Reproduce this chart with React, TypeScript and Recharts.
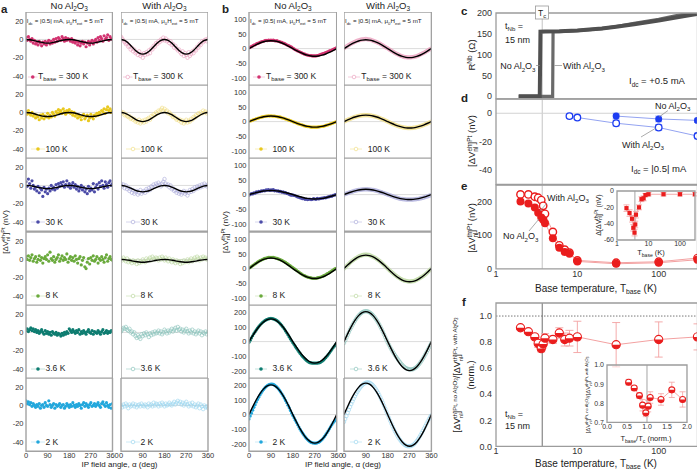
import React from 'react';
import { ComposedChart, Line, XAxis, YAxis, ReferenceLine, ReferenceArea, ErrorBar, Legend } from 'recharts';

const FONT = '"Liberation Sans", Arial, Helvetica, sans-serif';
const TICK = (s: number) => ({ fontSize: s, fill: '#333', fontFamily: FONT });

// ---------- angle grids ----------
const ANG5 = [0,5,10,15,20,25,30,35,40,45,50,55,60,65,70,75,80,85,90,95,100,105,110,115,120,125,130,135,140,145,150,155,160,165,170,175,180,185,190,195,200,205,210,215,220,225,230,235,240,245,250,255,260,265,270,275,280,285,290,295,300,305,310,315,320,325,330,335,340,345,350,355,360];
const ANG15 = [0,15,30,45,60,75,90,105,120,135,150,165,180,195,210,225,240,255,270,285,300,315,330,345,360];
const ANG45 = [0,45,90,135,180,225,270,315,360];
const TEMP_LABELS = ['300 K', '100 K', '30 K', '8 K', '3.6 K', '2 K'];

// ---------- panel a (electrical, eh) ----------
const aNo300 = [2,-1,3,0,-2,1,-4,-1,-5,-3, -6,-2,-4,-7,-3,-5,-2,-6,-3,-1, -5,-2,-4,0,-3,1,-2,2,0,-1, 3,1,-2,2,-1,1,0,-2,1,-3, -1,-4,-2,-6,-3,-7,-4,-2,-5,-3, -8,-4,-2,-6,-3,-1,-5,-2,0,-3, 2,-1,3,1,-2,4,0,2,5,-1, 3,1,0];
const aWith300 = [3,1,-1,-3,-5,-4,-8,-7,-11,-9, -13,-11,-15,-14,-17,-13,-18,-16,-20,-15, -17,-14,-16,-12,-15,-10,-11,-7,-8,-4, -5,-2,-3,0,-1,2,-1,1,-2,-1, -4,-2,-6,-5,-9,-7,-10,-12,-11,-14, -16,-13,-18,-15,-17,-20,-14,-18,-16,-13, -15,-11,-12,-8,-9,-5,-6,-2,-3,-1, 0,-2,1];
const aNo100 = [1,-2,2,-1,-3,0,-4,-2,-6,-3, -5,-8,-3,-6,-2,-7,-4,-5,-1,-6, -3,-5,0,-2,-4,1,-1,3,0,2, -1,4,1,-2,2,0,3,-1,1,-3, 0,-4,-2,-6,-3,-5,-8,-4,-2,-7, -5,-3,-9,-6,-2,-5,-7,-3,-4,-1, -3,0,-2,2,1,4,-1,3,6,2, 4,0,2];
const aWith100 = [1,-1,0,-3,-2,-4,-5,-4,-7,-6, -8,-7,-10,-9,-11,-8,-12,-10,-9,-11, -8,-10,-7,-6,-8,-4,-5,-2,-3,0, -1,2,1,3,5,2,4,1,2,-1, 0,-2,-3,-5,-4,-6,-8,-7,-9,-8, -11,-9,-12,-10,-8,-11,-9,-10,-7,-8, -5,-6,-3,-4,-1,-2,0,-1,2,0, 1,-1,0];
const aNo30 = [4,-1,7,2,-3,5,0,-4,-2,-6, -1,-8,-3,-5,-12,-2,-7,-4,-9,-3, -6,0,-4,-2,-5,1,-3,2,-1,3, 0,4,-2,1,5,-1,2,-3,0,3, -2,1,-4,-1,-6,-3,0,-5,-2,-7, -4,-9,-1,-6,-3,-5,2,-7,-2,1, -4,3,-1,5,0,-3,4,1,-2,3, 5,0,2];
const aWith30 = [2,-1,1,-3,0,-4,-2,-6,-4,-8, -5,-9,-7,-6,-10,-8,-5,-9,-7,-6, -8,-4,-6,-3,-5,-1,-2,1,-1,2, 0,3,1,-1,2,4,7,2,0,1, -2,0,-4,-3,-6,-5,-8,-6,-9,-7, -10,-8,-6,-9,-7,-11,-8,-5,-7,-4, -6,-2,-4,-1,-3,0,-2,1,-1,2, 0,-1,1];
const aNo8 = [3,0,4,-1,2,5,-2,1,3,-3, 0,4,-1,2,-4,1,3,0,5,-2, 8,1,-1,3,-3,0,2,5,-2,1, 4,-1,2,0,6,-3,1,3,-1,2, -2,4,0,-4,1,3,-6,-1,2,-8, -10,-3,1,-5,2,-1,4,-2,0,3, -4,1,-1,3,0,-3,2,5,-2,1, 3,0,-1];
const aWith8 = [1,-1,2,0,-2,1,-3,-1,-2,-4, -1,-3,-2,-5,-1,-4,-2,-3,0,-2, -3,1,-1,0,2,-1,3,1,0,2, 1,-1,2,0,3,1,-1,2,0,-2, 1,-1,-3,0,-2,-4,-1,-3,-2,-5, -2,-4,-1,-3,-2,0,-3,-1,1,-2, 0,2,-1,3,1,-1,2,0,3,1, 2,0,1];
const aNo36 = [2,4,1,3,5,2,4,1,3,0, 2,-1,1,3,0,-2,2,-1,1,-2, 0,-3,1,-1,-2,0,-3,-1,-2,-4, -1,-3,0,-2,1,-1,4,2,0,3, 1,-1,2,0,3,-2,1,-1,2,0, -2,1,3,0,-1,2,-2,1,0,-1, 2,0,-2,1,3,-1,0,2,-1,1, 0,2,1];
const aWith36 = [1,3,5,4,6,3,2,4,0,1, -2,0,-4,-6,-3,-5,-7,-2,-4,-1, -3,0,-2,-5,-1,-3,0,-2,1,-1, 0,2,-1,1,-2,0,3,1,-1,2, 0,2,4,1,3,5,2,6,3,4, 1,3,0,2,4,1,-1,2,0,3, -1,1,-2,0,2,-1,1,-3,0,-1, 1,-2,0];
const aNo2 = [5,2,4,1,3,-1,2,0,-2,1, -1,2,-3,0,1,-2,3,0,-1,5, 1,-2,0,2,-3,1,-1,0,2,-2, 0,1,-3,-1,2,0,-2,1,-1,3, 0,-2,1,-1,2,0,-3,1,3,-1, 2,0,-2,1,3,-1,0,2,-1,1, 3,0,-2,2,4,1,-1,3,0,-2, 1,-3,2];
const aWith2 = [0,-2,1,-1,2,0,-3,1,-1,0, 2,-1,1,-2,0,1,-1,2,0,-1, 1,0,-2,2,0,1,-1,3,0,2, 1,-1,2,0,3,1,-1,2,0,1, 3,1,0,2,4,1,3,5,2,4, 1,3,0,2,4,1,-1,2,0,3, -1,1,-2,0,2,-3,1,-1,-4,0, -2,-1,-3];

const fitANo300 = [0,-0.3,-1,-2,-3,-3.7,-4,-3.7,-3,-2,-1,-0.3,0,-0.3,-1,-2,-3,-3.7,-4,-3.7,-3,-2,-1,-0.3,0];
const fitAWith300 = [0,-1.1,-4,-8,-12,-14.9,-16,-14.9,-12,-8,-4,-1.1,0,-1.1,-4,-8,-12,-14.9,-16,-14.9,-12,-8,-4,-1.1,0];
const fitANo100 = [0,-0.3,-1.1,-2.3,-3.4,-4.2,-4.5,-4.2,-3.4,-2.3,-1.1,-0.3,0,-0.3,-1.1,-2.3,-3.4,-4.2,-4.5,-4.2,-3.4,-2.3,-1.1,-0.3,0];
const fitAWith100 = [0,-0.7,-2.5,-5,-7.5,-9.3,-10,-9.3,-7.5,-5,-2.5,-0.7,0,-0.7,-2.5,-5,-7.5,-9.3,-10,-9.3,-7.5,-5,-2.5,-0.7,0];
const fitANo30 = [0,-0.2,-0.9,-1.8,-2.6,-3.3,-3.5,-3.3,-2.6,-1.8,-0.9,-0.2,0,-0.2,-0.9,-1.8,-2.6,-3.3,-3.5,-3.3,-2.6,-1.8,-0.9,-0.2,0];
const fitAWith30 = [0,-0.5,-1.8,-3.5,-5.3,-6.5,-7,-6.5,-5.3,-3.5,-1.8,-0.5,0,-0.5,-1.8,-3.5,-5.3,-6.5,-7,-6.5,-5.3,-3.5,-1.8,-0.5,0];
const fitAWith8 = [0,-0.2,-0.8,-1.5,-2.3,-2.8,-3,-2.8,-2.3,-1.5,-0.8,-0.2,0,-0.2,-0.8,-1.5,-2.3,-2.8,-3,-2.8,-2.3,-1.5,-0.8,-0.2,0];

// ---------- panel b (thermal, th) ----------
const bNo300 = [2,5,7,9,12,13,16,18,19,21,23,24,25,27,28,27,29,28,29, 28,29,27,26,27,25,24,22,21,19,18,15,13,11,9,7,5,2, -1,-4,-6,-8,-10,-12,-14,-16,-18,-19,-21,-22,-23,-24,-24,-25,-25,-25, -25,-24,-23,-21,-20,-18,-17,-15,-14,-12,-10,-8,-7,-5,-3,-1,1,3];
const bWith300 = [1,4,7,10,12,15,17,19,21,23,25,27,28,29,31,31,32,32,33,32,31,31,30,28,27,25,24,22,20,18,16,13,11,8,5,3,1, -2,-5,-7,-10,-12,-15,-17,-19,-21,-23,-25,-26,-28,-29,-29,-30,-30,-30,-30,-29,-29,-28,-27,-26,-24,-22,-20,-18,-16,-14,-12,-9,-7,-4,-2,0];
const bNo100 = [0,2,3,5,7,8,10,11,12,14,15,16,17,18,19,19,20,19,20,19,19,19,18,17,16,16,15,13,12,11,9,8,6,5,3,2,0, -2,-3,-5,-7,-8,-10,-11,-12,-14,-15,-16,-17,-17,-18,-19,-19,-19,-19,-19,-19,-18,-18,-17,-16,-16,-15,-13,-12,-11,-9,-8,-6,-5,-3,-2,0];
const bWith100 = [0,2,4,6,8,9,11,13,14,16,17,18,19,20,21,21,22,22,22,22,22,21,21,20,19,18,17,16,14,13,11,9,8,6,4,2,0, -2,-4,-6,-8,-9,-11,-13,-14,-16,-17,-18,-19,-20,-21,-21,-22,-22,-22,-22,-22,-21,-21,-20,-19,-18,-17,-16,-14,-13,-11,-9,-8,-6,-4,-2,0];
const bNo30 = [-2,1,3,2,6,5,9,8,11,10,13,12,14,13,16,15,17,14,16,15,17,13,14,12,13,10,11,8,9,6,7,4,3,1,-1,-2,-1, -3,-4,-6,-8,-9,-11,-12,-14,-13,-16,-15,-17,-16,-15,-17,-16,-14,-15,-16,-13,-15,-14,-13,-12,-12,-10,-11,-9,-8,-7,-5,-6,-3,-2,0,-1];
const bWith30 = [0,2,3,5,6,8,9,10,12,13,14,15,16,16,17,17,18,18,18,18,18,17,17,16,16,15,14,13,12,10,9,8,6,5,3,2,0, -1,-3,-4,-6,-7,-9,-10,-11,-13,-14,-15,-15,-16,-16,-17,-17,-17,-17,-17,-17,-17,-16,-16,-15,-15,-14,-13,-12,-11,-10,-8,-7,-6,-4,-3,-1];
const bNo8 = [1,4,7,10,13,16,19,22,25,27,29,31,33,35,36,37,38,38,38,38,38,37,36,35,33,32,30,28,26,23,21,18,15,12,9,6,3, 0,-3,-6,-9,-12,-15,-18,-21,-23,-25,-27,-29,-30,-31,-32,-33,-33,-33,-33,-32,-31,-30,-29,-27,-25,-23,-21,-18,-16,-13,-11,-8,-5,-2,0,2];
const bWith8 = [0,4,8,12,16,20,24,27,30,33,36,38,41,43,44,46,47,47,48,47,47,46,44,42,40,38,36,33,30,27,24,20,16,12,8,4,0, -4,-8,-11,-15,-18,-22,-25,-28,-31,-33,-36,-38,-40,-41,-42,-43,-44,-44,-44,-43,-43,-42,-40,-38,-36,-34,-31,-29,-26,-23,-20,-16,-12,-8,-4,0];
const bNo36 = [-5,10,25,40,55,68,80,92,103,113,122,130,137,143,148,152,155,157,158,157,155,152,148,143,136,128,119,109,98,86,73,60,46,32,18,5,-8, -20,-33,-46,-58,-70,-81,-92,-102,-111,-119,-127,-134,-140,-144,-146,-147,-147,-147,-147,-147,-146,-144,-140,-134,-127,-119,-110,-100,-89,-78,-66,-54,-42,-31,-20,-10];
const bWith36 = [-10,8,27,46,64,82,98,114,128,142,155,167,177,186,194,200,204,207,208,207,205,200,194,187,178,168,157,145,131,117,101,85,67,49,30,12,-6, -22,-38,-53,-67,-80,-93,-105,-117,-128,-139,-150,-159,-168,-175,-181,-185,-188,-190,-190,-190,-188,-184,-179,-172,-163,-153,-142,-130,-117,-103,-88,-73,-57,-41,-25,-10];
const bNo2 = [-30,-10,10,30,50,68,86,103,119,134,148,161,172,182,191,198,203,207,209,209,206,201,195,187,178,167,155,142,128,113,97,81,64,46,28,11,-6, -22,-38,-54,-70,-85,-100,-114,-127,-139,-150,-161,-170,-178,-185,-190,-193,-194,-195,-195,-193,-190,-185,-178,-170,-160,-149,-137,-124,-111,-97,-83,-70,-57,-46,-38,-32];
const bWith2 = [-50,-30,-10,12,32,52,72,90,108,125,141,155,168,180,191,200,208,214,218,220,220,218,213,207,199,189,177,164,150,134,117,99,80,60,40,19,-2, -22,-42,-61,-80,-98,-115,-130,-145,-159,-171,-182,-192,-200,-207,-212,-215,-216,-216,-215,-212,-207,-200,-191,-180,-168,-155,-141,-126,-110,-94,-78,-62,-46,-30,-15,-5];

const fitBNo300 = [0,7,13.5,19.1,23.4,26.1,27,26.1,23.4,19.1,13.5,7,0,-6.7,-13,-18.4,-22.5,-25.1,-26,-25.1,-22.5,-18.4,-13,-6.7,0];
const fitBWith300 = [0,7.8,15,21.2,26,29,30,29,26,21.2,15,7.8,0,-8,-15.5,-21.9,-26.8,-29.9,-31,-29.9,-26.8,-21.9,-15.5,-8,0];
const fitBNo100 = [0,4.9,9.5,13.4,16.5,18.4,19,18.4,16.5,13.4,9.5,4.9,0,-4.9,-9.5,-13.4,-16.5,-18.4,-19,-18.4,-16.5,-13.4,-9.5,-4.9,0];
const fitBWith100 = [0,5.7,11,15.6,19.1,21.3,22,21.3,19.1,15.6,11,5.7,0,-5.7,-11,-15.6,-19.1,-21.3,-22,-21.3,-19.1,-15.6,-11,-5.7,0];
const fitBNo30 = [0,3.6,7,9.9,12.1,13.5,14,13.5,12.1,9.9,7,3.6,0,-3.9,-7.5,-10.6,-13,-14.5,-15,-14.5,-13,-10.6,-7.5,-3.9,0];
const fitBWith30 = [0,4.7,9,12.7,15.6,17.4,18,17.4,15.6,12.7,9,4.7,0,-4.4,-8.5,-12,-14.7,-16.4,-17,-16.4,-14.7,-12,-8.5,-4.4,0];
const fitBNo8 = [0,9.3,18,25.5,31.2,34.8,36,34.8,31.2,25.5,18,9.3,0,-8.8,-17,-24,-29.4,-32.8,-34,-32.8,-29.4,-24,-17,-8.8,0];
const fitBWith8 = [0,11.9,23,32.5,39.8,44.4,46,44.4,39.8,32.5,23,11.9,0,-11.7,-22.5,-31.8,-39,-43.5,-45,-43.5,-39,-31.8,-22.5,-11.7,0];
const fitBNo36 = [0,40,77.5,109.6,134.2,149.7,155,149.7,134.2,109.6,77.5,40,0,-38,-73.5,-103.9,-127.3,-142,-147,-142,-127.3,-103.9,-73.5,-38,0];
const fitBWith36 = [0,53,102.5,145,177.5,198,205,198,177.5,145,102.5,53,0,-51.3,-99,-140,-171.5,-191.3,-198,-191.3,-171.5,-140,-99,-51.3,0];
const fitBNo2 = [0,52.6,101.5,143.5,175.8,196,203,196,175.8,143.5,101.5,52.6,0,-50.5,-97.5,-137.9,-168.9,-188.4,-195,-188.4,-168.9,-137.9,-97.5,-50.5,0];
const fitBWith2 = [0,55.7,107.5,152,186.2,207.7,215,207.7,186.2,152,107.5,55.7,0,-55.9,-108,-152.7,-187.1,-208.6,-216,-208.6,-187.1,-152.7,-108,-55.9,0];

// ---------- panel c ----------
const TC = 3.7;
const cNoT = [1.9, 3.45, 3.52, 4, 6, 10, 20, 30, 50, 100, 150, 200, 300];
const cNoR = [0, 0, 155, 155.5, 156, 158, 163, 167, 173, 182, 188, 192, 198];
const cWithT = [1.9, 4.97, 5.03, 6, 10, 20, 30, 50, 100, 150, 200, 300];
const cWithR = [0, 0, 155, 155.5, 157.5, 162.5, 167.5, 175, 185, 192, 197, 205];

// ---------- panel d ----------
const dWithT = [8, 10, 30, 100, 300];
const dWithV = [-2, -3, -7, -10, -16];
const dWithE = [1.5, 1.5, 2, 2, 2];
const dNoT = [30, 100, 300];
const dNoV = [-2, -4, -5];
const dNoE = [2, 2, 1.5];

// ---------- panel e ----------
const eT = [2, 2.5, 3, 3.3, 3.6, 3.8, 4, 5, 6, 7, 8, 10, 30, 100, 300];
const eNo = [201, 195, 183, 167, 153, 146, 136, 91, 63, 50, 45, 22, 15, 18, 27];
const eWith = [222, 222, 215, 212, 205, 188, 164, 110, 70, 57, 48, 25, 18, 21, 32];
const eDelta = [-21, -27, -34, -45, -51, -41, -29, -20, -10, -9, -5, -4, -4, -4, -4];
const eDeltaErr = [4, 4, 4, 4, 4, 4, 4, 3, 3, 3, 2, 2, 2, 2, 2];

// ---------- panel f ----------
const fT = [2, 2.5, 3, 3.3, 3.6, 3.8, 4, 5, 6, 7, 8, 10, 30, 100, 300];
const fR = [0.91, 0.88, 0.84, 0.79, 0.75, 0.785, 0.83, 0.82, 0.87, 0.82, 0.83, 0.84, 0.78, 0.82, 0.84];
const fErr = [0.015, 0.015, 0.02, 0.03, 0.025, 0.03, 0.035, 0.03, 0.04, 0.05, 0.06, 0.12, 0.17, 0.135, 0.1];
const fInsX = [0.54, 0.68, 0.81, 0.89, 0.97, 1.03, 1.08, 1.35, 1.62, 1.89];
const fInsR = [0.91, 0.88, 0.84, 0.79, 0.75, 0.785, 0.83, 0.82, 0.87, 0.82];
const fInsErr = [0.015, 0.012, 0.015, 0.03, 0.02, 0.03, 0.03, 0.03, 0.04, 0.04];

const LOGT = [1,2,3,4,5,6,7,8,9,10,20,30,40,50,60,70,80,90,100,200,300];

// ---------- colours ----------
const DARK = ['#d23370', '#e9c81e', '#4c4ca8', '#6aaa3c', '#0d7c70', '#22a7dc'];
const LIGHT = ['#eba3c0', '#f1df88', '#aeaedb', '#bcd9a0', '#8cc4bc', '#9dd7ef'];
const LEGLINE = ['#f2bfd3', '#f6eaaa', '#cbcbe9', '#d4e7c1', '#b4d9d3', '#c1e6f5'];
const RED = '#ea1d1d';
const LRED = '#f3a1a1';
const BLUE = '#1c3cf2';
const LBLUE = '#93a3f1';

const mkDot = (draw: (cx: number, cy: number) => any) => (p: any) => {
  const { cx, cy, index } = p;
  if (cx == null || cy == null || isNaN(cx) || isNaN(cy)) return <g key={`d${index}`} />;
  return <g key={`d${index}`}>{draw(cx, cy)}</g>;
};
const halfDot = (r: number) => mkDot((cx, cy) => (
  <g>
    <circle cx={cx} cy={cy} r={r} fill="#fff" stroke={RED} strokeWidth={1.1} />
    <path d={`M ${cx - r} ${cy} A ${r} ${r} 0 0 0 ${cx + r} ${cy} Z`} fill={RED} />
  </g>
));

function innerAxes(xd: number[], xt: number[], yd: number[], yt: number[], log = false) {
  const base: any = { type: 'number', allowDataOverflow: true, tick: false, axisLine: false, mirror: true, tickSize: 2.2, tickLine: { stroke: '#8a8a8a', strokeWidth: 0.7 }, interval: 0 };
  const sc: any = log ? { scale: 'log' } : {};
  return [
    <XAxis key="ib" xAxisId="ib" orientation="bottom" domain={xd} ticks={xt} height={10} {...sc} {...base} />,
    <XAxis key="it" xAxisId="it" orientation="top" domain={xd} ticks={xt} height={10} {...sc} {...base} />,
    <YAxis key="il" yAxisId="il" orientation="left" domain={yd} ticks={yt} width={10} {...base} />,
    <YAxis key="ir" yAxisId="ir" orientation="right" domain={yd} ticks={yt} width={10} {...base} />,
  ];
}

function LegBody({ w, gap, color, light, legLine, open, label }: any) {
  return (
    <div style={{ display: 'flex', alignItems: 'center', fontFamily: FONT, fontSize: 8.5, color: '#222', whiteSpace: 'nowrap', lineHeight: '9px' }}>
      <svg width={w} height={6} style={{ display: 'block', overflow: 'visible' }}>
        <line x1={0} x2={w} y1={3} y2={3} stroke={legLine} strokeWidth={0.8} />
        {open ? <circle cx={w / 2} cy={3} r={1.8} fill="#fff" stroke={light} strokeWidth={0.7} /> : <circle cx={w / 2} cy={3} r={1.8} fill={color} />}
      </svg>
      <span style={{ marginLeft: gap }}>{label}</span>
    </div>
  );
}

function SmallPanel(props: any) {
  const { left, top, w, h, yW, xH, domain, yTicks, yMinor, pts, fit, color, light, legLine, open, label, leg } = props;
  const data = pts.map((v: number, i: number) => ({ a: ANG5[i], v }));
  const fitData = fit ? fit.map((v: number, i: number) => ({ a: ANG15[i], v })) : null;
  const ml = xH ? 6 : 0;
  const mr = xH ? 8 : 0;
  const W = ml + yW + w + mr;
  const H = h + xH;
  const dot = open
    ? mkDot((cx, cy) => <circle cx={cx} cy={cy} r={1.75} fill="none" stroke={light} strokeWidth={0.65} />)
    : mkDot((cx, cy) => <circle cx={cx} cy={cy} r={1.6} fill={color} />);
  return (
    <div style={{ position: 'absolute', left: left - yW - ml, top, width: W, height: H }}>
      <ComposedChart width={W} height={H} margin={{ top: 0, right: mr, bottom: 0, left: ml }}>
        <XAxis xAxisId={0} dataKey="a" type="number" domain={[0, 360]} ticks={[0, 90, 180, 270, 360]} allowDataOverflow hide={xH === 0} height={xH || 1} tickLine={false} axisLine={false} tickSize={0} tickMargin={1.5} interval={0} tick={TICK(7.5)} />
        <YAxis yAxisId={0} type="number" domain={domain} ticks={yTicks} allowDataOverflow hide={yW === 0} width={yW || 1} tickLine={false} axisLine={false} tickSize={0} tickMargin={2.5} interval={0} tick={TICK(7.5)} />
        {innerAxes([0, 360], ANG45, domain, yMinor)}
        <ReferenceLine y={0} stroke="#dcdcdc" strokeWidth={1} />
        <Line data={data} dataKey="v" stroke="none" dot={dot} activeDot={false} isAnimationActive={false} legendType="none" />
        {fitData && <Line data={fitData} dataKey="v" type="natural" stroke="#000" strokeWidth={1.4} dot={false} activeDot={false} isAnimationActive={false} legendType="none" zIndex={1500} />}
        <ReferenceArea x1={0} x2={360} y1={domain[0]} y2={domain[1]} fill="none" stroke="#a2a2a2" strokeWidth={1.4} zIndex={1600} />
        <Legend layout="horizontal" verticalAlign="middle" align="center"
          wrapperStyle={{ left: ml + yW + leg.off, top: 59.5, width: 'auto', height: 'auto', lineHeight: 1 }}
          content={() => <LegBody w={leg.w} gap={leg.gap} color={color} light={light} legLine={legLine} open={open} label={label} />} />
      </ComposedChart>
    </div>
  );
}

function Frame({ left, top, w, h, yW, xH, xd, xLog, xt, xm, yd, yt, ym, fs, xFmt, yFmt, tm = 4, children }: any) {
  const ml = xH ? 6 : 0;
  const mr = xH ? 8 : 0;
  const mt = 6;
  const mb = xH ? 0 : 6;
  const W = ml + yW + w + mr;
  const H = mt + h + xH + mb;
  const sc: any = xLog ? { scale: 'log' } : {};
  return (
    <div style={{ position: 'absolute', left: left - yW - ml, top: top - mt, width: W, height: H }}>
      <ComposedChart width={W} height={H} margin={{ top: mt, right: mr, bottom: mb, left: ml }}>
        <XAxis xAxisId={0} dataKey="T" type="number" {...sc} domain={xd} ticks={xt} allowDataOverflow hide={xH === 0} height={xH || 1} tickLine={false} axisLine={false} tickSize={0} tickMargin={1.5} interval={0} tick={TICK(fs)} tickFormatter={xFmt} />
        <YAxis yAxisId={0} type="number" domain={yd} ticks={yt} allowDataOverflow width={yW} tickLine={false} axisLine={false} tickSize={0} tickMargin={tm} interval={0} tick={TICK(fs)} tickFormatter={yFmt} />
        {innerAxes(xd, xm, yd, ym, xLog)}
        {children}
        <ReferenceArea x1={xd[0]} x2={xd[1]} y1={yd[0]} y2={yd[1]} fill="none" stroke="#9c9c9c" strokeWidth={1.3} zIndex={1600} />
      </ComposedChart>
    </div>
  );
}

// ---------- rich text ----------
type Seg = [string, string?, number?];
function RT({ x, y, s, segs, anchor = 'start', rot = 0, w = 400, fill = '#222' }: any) {
  let cur = 0;
  const kids = (segs as Seg[]).map(([t, k = 'n', dx = 0], i) => {
    const tgt = k === 'b' ? s * 0.28 : k === 'p' ? -s * 0.36 : k === 'q' ? -s * 0.2 : 0;
    const dy = tgt - cur;
    cur = tgt;
    const fsz = k === 'n' ? s : k === 'q' ? s * 0.5 : s * 0.68;
    return <tspan key={i} dx={dx || undefined} dy={dy || undefined} fontSize={fsz}>{t}</tspan>;
  });
  return (
    <text x={x} y={y} fontSize={s} textAnchor={anchor} fontWeight={w} fill={fill} fontFamily={FONT}
      transform={rot ? `rotate(${rot} ${x} ${y})` : undefined} style={{ whiteSpace: 'pre' }}>{kids}</text>
  );
}
const AL = (pre: string): Seg[] => [[pre + 'Al'], ['2', 'b'], ['O'], ['3', 'b']];
const DV_EH = (s: number): Seg[] => [['[ΔV'], ['eh', 'p'], ['nl', 'b', -0.76 * s], [']', 'n', 0.23 * s], ['Pt', 'p'], [' (nV)']];
const DV_TH = (s: number, pre = '', post = ' (nV)'): Seg[] => [[pre + '[ΔV'], ['th', 'p'], ['nl', 'b', -0.57 * s], [']'], ['Pt', 'p'], [post]];
const RATIO = (s: number): Seg[] => [
  ['[ΔV'], ['th', 'p'], ['nl', 'b', -0.57 * s], [']'], ['Pt, no Al', 'p'], ['2', 'q'], ['O', 'p'], ['3', 'q'],
  ['/[ΔV'], ['th', 'p'], ['nl', 'b', -0.57 * s], [']'], ['Pt, with Al', 'p'], ['2', 'q'], ['O', 'p'], ['3', 'q'],
];
const COND: Seg[] = [['I'], ['dc', 'b'], [' = |0.5| mA, μ'], ['0', 'b'], ['H'], ['ext', 'b'], [' = 5 mT']];

function Overlay() {
  const L = (x1: number, y1: number, x2: number, y2: number) => <line x1={x1} y1={y1} x2={x2} y2={y2} stroke="#888" strokeWidth={0.7} />;
  return (
    <svg width={697} height={471} style={{ position: 'absolute', left: 0, top: 0, pointerEvents: 'none' }}>
      {/* panel letters */}
      <RT x={1} y={13} s={11.5} w={700} segs={[['a']]} />
      <RT x={222} y={12.5} s={11.5} w={700} segs={[['b']]} />
      <RT x={461} y={15} s={11.5} w={700} segs={[['c']]} />
      <RT x={461} y={101.5} s={11.5} w={700} segs={[['d']]} />
      <RT x={461} y={190} s={11.5} w={700} segs={[['e']]} />
      <RT x={462} y={305.5} s={11.5} w={700} segs={[['f']]} />
      {/* column titles */}
      <RT x={69.2} y={8.6} s={9.5} anchor="middle" segs={AL('No ')} />
      <RT x={164.4} y={8.6} s={9.5} anchor="middle" segs={AL('With ')} />
      <RT x={293} y={8.6} s={9.5} anchor="middle" segs={AL('No ')} />
      <RT x={388} y={8.6} s={9.5} anchor="middle" segs={AL('With ')} />
      {/* conditions */}
      <RT x={26.8} y={22.8} s={6.2} segs={COND} />
      <RT x={121.8} y={22.8} s={6.2} segs={COND} />
      <RT x={250} y={22.8} s={6.2} segs={COND} />
      <RT x={345} y={22.8} s={6.2} segs={COND} />
      {/* a / b axis titles */}
      <RT x={119.5} y={467.3} s={8} anchor="middle" segs={[['IP field angle, α (deg)']]} />
      <RT x={343} y={467.3} s={8} anchor="middle" segs={[['IP field angle, α (deg)']]} />
      <RT x={8} y={232} s={8} anchor="middle" rot={-90} segs={DV_EH(8)} />
      <RT x={228} y={232} s={8} anchor="middle" rot={-90} segs={DV_TH(8)} />
      {/* c */}
      <rect x={535.5} y={6} width={13} height={13} fill="#fff" stroke="#999" strokeWidth={0.8} />
      <RT x={542} y={15.5} s={8.5} anchor="middle" segs={[['T'], ['c', 'b']]} />
      <RT x={505} y={28.5} s={9} segs={[['t'], ['Nb', 'b'], [' =']]} />
      <RT x={505} y={42.5} s={9} segs={[['15 nm']]} />
      <RT x={535.5} y={69} s={9} anchor="end" segs={AL('No ')} />
      {L(536, 65.5, 540, 65.5)}
      <RT x={563} y={69} s={9} segs={AL('With ')} />
      {L(554.5, 65.5, 562, 65.5)}
      <RT x={629} y={84} s={9.5} segs={[['I'], ['dc', 'b'], [' = +0.5 mA']]} />
      <RT x={475.3} y={55} s={9.5} anchor="middle" rot={-90} segs={[['R'], ['Nb', 'p'], [' (Ω)']]} />
      {/* d */}
      <RT x={655} y={108.5} s={9} segs={AL('No ')} />
      {L(668, 110.5, 659, 117)}
      <RT x={622} y={147.5} s={9} segs={AL('With ')} />
      {L(641, 137, 656, 128)}
      <RT x={631} y={171.5} s={9.5} segs={[['I'], ['dc', 'b'], [' = |0.5| mA']]} />
      <RT x={475.3} y={141} s={9.5} anchor="middle" rot={-90} segs={DV_EH(9.5)} />
      {/* e */}
      <RT x={547} y={200.5} s={9} segs={AL('With ')} />
      {L(547, 203, 540, 211)}
      <RT x={503} y={239} s={9} segs={AL('No ')} />
      {L(529, 231, 539, 219)}
      <RT x={475.3} y={228} s={9.5} anchor="middle" rot={-90} segs={DV_TH(9.5)} />
      <RT x={596} y={291.5} s={10} anchor="middle" segs={[['Base temperature, T'], ['base', 'b'], [' (K)']]} />
      <RT x={600.5} y={215} s={7} anchor="middle" rot={-90} segs={DV_TH(7, 'Δ')} />
      <RT x={651} y={254.5} s={7.5} anchor="middle" segs={[['T'], ['base', 'b'], [' (K)']]} />
      {/* f */}
      <RT x={460} y={375} s={9} anchor="middle" rot={-90} segs={RATIO(9)} />
      <RT x={474} y={375} s={9} anchor="middle" rot={-90} segs={[['(norm.)']]} />
      <RT x={505} y={416.5} s={9} segs={[['t'], ['Nb', 'b'], [' =']]} />
      <RT x={505} y={429} s={9} segs={[['15 nm']]} />
      <RT x={596} y={466.5} s={10} anchor="middle" segs={[['Base temperature, T'], ['base', 'b'], [' (K)']]} />
      <RT x={590} y={395} s={6} anchor="middle" rot={-90} segs={RATIO(6)} />
      <RT x={646} y={441} s={7.5} anchor="middle" segs={[['T'], ['base', 'b'], ['/T'], ['c', 'b'], [' (norm.)']]} />
    </svg>
  );
}

export default function App() {
  const rowTop = (i: number) => 12 + 73.2 * i;
  const aCols = [{ left: 26, w: 86.5, yW: 24 }, { left: 121, w: 87, yW: 0 }];
  const bCols = [{ left: 249, w: 87.7, yW: 24 }, { left: 344.3, w: 87.4, yW: 0 }];
  const aPts = [[aNo300, aNo100, aNo30, aNo8, aNo36, aNo2], [aWith300, aWith100, aWith30, aWith8, aWith36, aWith2]];
  const aFit = [[fitANo300, fitANo100, fitANo30, null, null, null], [fitAWith300, fitAWith100, fitAWith30, fitAWith8, null, null]];
  const bPts = [[bNo300, bNo100, bNo30, bNo8, bNo36, bNo2], [bWith300, bWith100, bWith30, bWith8, bWith36, bWith2]];
  const bFit = [[fitBNo300, fitBNo100, fitBNo30, fitBNo8, fitBNo36, fitBNo2], [fitBWith300, fitBWith100, fitBWith30, fitBWith8, fitBWith36, fitBWith2]];

  const labelFor = (i: number) => i === 0
    ? <span>T<span style={{ fontSize: 6, position: 'relative', top: 2 }}>base</span> = {TEMP_LABELS[0]}</span>
    : <span>{TEMP_LABELS[i]}</span>;

  const panels: any[] = [];
  for (let i = 0; i < 6; i++) {
    for (let c = 0; c < 2; c++) {
      const ac = aCols[c];
      panels.push(
        <SmallPanel key={`a${i}${c}`} left={ac.left} top={rowTop(i)} w={ac.w} h={73.2} yW={ac.yW} xH={i === 5 ? 12 : 0}
          domain={[-50, 30]} yTicks={[-40, -20, 0, 20]} yMinor={[-40, -30, -20, -10, 0, 10, 20]}
          pts={aPts[c][i]} fit={aFit[c][i]} color={DARK[i]} light={LIGHT[i]} legLine={LEGLINE[i]} open={c === 1}
          label={labelFor(i)} leg={i === 0 ? { off: 1.5, w: 9.5, gap: 1 } : { off: 4.5, w: 14, gap: 1 }} />
      );
      const bc = bCols[c];
      const big = i >= 4;
      panels.push(
        <SmallPanel key={`b${i}${c}`} left={bc.left} top={rowTop(i)} w={bc.w} h={73.2} yW={bc.yW} xH={i === 5 ? 12 : 0}
          domain={big ? [-250, 250] : [-125, 125]}
          yTicks={big ? [-200, -100, 0, 100, 200] : [-100, -50, 0, 50, 100]}
          yMinor={big ? [-200, -150, -100, -50, 0, 50, 100, 150, 200] : [-100, -75, -50, -25, 0, 25, 50, 75, 100]}
          pts={bPts[c][i]} fit={bFit[c][i]} color={DARK[i]} light={LIGHT[i]} legLine={LEGLINE[i]} open={c === 1}
          label={labelFor(i)} leg={i === 0 ? { off: 4, w: 12, gap: 1 } : { off: 6, w: 12, gap: 5.5 }} />
      );
    }
  }

  const cNo = cNoT.map((T, i) => ({ T, v: cNoR[i] }));
  const cWith = cWithT.map((T, i) => ({ T, v: cWithR[i] }));
  const dWith = dWithT.map((T, i) => ({ T, v: dWithV[i], e: dWithE[i] }));
  const dNo = dNoT.map((T, i) => ({ T, v: dNoV[i], e: dNoE[i] }));
  const eNoD = eT.map((T, i) => ({ T, v: eNo[i] }));
  const eWithD = eT.map((T, i) => ({ T, v: eWith[i] }));
  const eDeltaD = eT.map((T, i) => ({ T, v: eDelta[i], e: eDeltaErr[i] }));
  const fD = fT.map((T, i) => ({ T, v: fR[i], e: fErr[i] }));
  const fInsD = fInsX.map((T, i) => ({ T, v: fInsR[i], e: fInsErr[i] }));

  const common = { isAnimationActive: false, activeDot: false, legendType: 'none' as const };
  const openBlue = mkDot((cx, cy) => <circle cx={cx} cy={cy} r={3.3} fill="#fff" stroke={BLUE} strokeWidth={1.3} />);
  const fillBlue = mkDot((cx, cy) => <circle cx={cx} cy={cy} r={3.5} fill={BLUE} />);
  const openRed = mkDot((cx, cy) => <circle cx={cx} cy={cy} r={3.7} fill="#fff" stroke={RED} strokeWidth={1.4} />);
  const fillRed = mkDot((cx, cy) => <circle cx={cx} cy={cy} r={4} fill={RED} />);
  const sqRed = mkDot((cx, cy) => <rect x={cx - 2.1} y={cy - 2.1} width={4.2} height={4.2} fill={RED} />);
  const f1 = (v: number) => v.toFixed(1);

  return (
    <div style={{ position: 'fixed', left: 0, top: 0, width: 697, height: 471, overflow: 'hidden', background: '#fff', fontFamily: FONT }}>
      {panels}

      {/* c */}
      <Frame left={496} top={12.7} w={201.5} h={85.8} yW={32} xH={0} xd={[1, 300]} xLog xt={[1, 10, 100]} xm={LOGT}
        yd={[-6, 200]} yt={[0, 50, 100, 150, 200]} ym={[0, 25, 50, 75, 100, 125, 150, 175, 200]} fs={9}>
        <ReferenceLine x={TC} stroke="#c4c4c4" strokeWidth={1} />
        <Line data={cWith} dataKey="v" stroke="#6a6a6a" strokeWidth={3.2} dot={false} {...common} />
        <Line data={cNo} dataKey="v" stroke="#505050" strokeWidth={4} dot={false} {...common} />
      </Frame>

      {/* d */}
      <Frame left={496} top={98.5} w={201.5} h={85.5} yW={32} xH={0} xd={[1, 300]} xLog xt={[1, 10, 100]} xm={LOGT}
        yd={[-50, 10]} yt={[-40, -20, 0]} ym={[-50, -40, -30, -20, -10, 0, 10]} fs={9}>
        <ReferenceLine x={TC} stroke="#c4c4c4" strokeWidth={1} />
        <ReferenceLine y={0} stroke="#d2d2d2" strokeWidth={1} />
        <Line data={dWith} dataKey="v" stroke={LBLUE} strokeWidth={1} dot={openBlue} {...common}>
          <ErrorBar dataKey="e" direction="y" width={3.5} stroke={LBLUE} strokeWidth={0.9} />
        </Line>
        <Line data={dNo} dataKey="v" stroke={LBLUE} strokeWidth={1} dot={fillBlue} {...common}>
          <ErrorBar dataKey="e" direction="y" width={3.5} stroke={LBLUE} strokeWidth={0.9} />
        </Line>
      </Frame>

      {/* e */}
      <Frame left={496} top={184.5} w={201.5} h={83.8} yW={32} xH={12} xd={[1, 300]} xLog xt={[1, 10, 100]} xm={LOGT}
        yd={[0, 250]} yt={[0, 100, 200]} ym={[0, 50, 100, 150, 200, 250]} fs={9}>
        <ReferenceLine x={TC} stroke="#c4c4c4" strokeWidth={1} />
        <Line data={eWithD} dataKey="v" stroke={LRED} strokeWidth={1} dot={openRed} {...common} />
        <Line data={eNoD} dataKey="v" stroke={LRED} strokeWidth={1} dot={fillRed} {...common} />
      </Frame>

      {/* e inset */}
      <Frame left={616.5} top={190.5} w={78} h={49} yW={17} xH={9} xd={[1, 300]} xLog xt={[1, 10, 100]} xm={LOGT}
        yd={[-60, 0]} yt={[-60, -40, -20, 0]} ym={[-60, -50, -40, -30, -20, -10, 0]} fs={7} tm={3}>
        <ReferenceLine x={TC} stroke="#9a9a9a" strokeWidth={0.9} />
        <Line data={eDeltaD} dataKey="v" stroke={LRED} strokeWidth={0.9} dot={sqRed} {...common}>
          <ErrorBar dataKey="e" direction="y" width={3} stroke={LRED} strokeWidth={0.8} />
        </Line>
      </Frame>

      {/* f */}
      <Frame left={496} top={303.3} w={201.5} h={143.4} yW={32} xH={12} xd={[1, 300]} xLog xt={[1, 10, 100]} xm={LOGT}
        yd={[0, 1.1]} yt={[0, 0.2, 0.4, 0.6, 0.8, 1.0]} ym={[0, 0.1, 0.2, 0.3, 0.4, 0.5, 0.6, 0.7, 0.8, 0.9, 1.0, 1.1]} fs={9} yFmt={f1}>
        <ReferenceLine y={1} stroke="#555" strokeWidth={0.8} strokeDasharray="1.5 1.5" />
        <ReferenceLine x={TC} stroke="#6e6e6e" strokeWidth={1} />
        <Line data={fD} dataKey="v" stroke={LRED} strokeWidth={1} dot={halfDot(4.1)} {...common}>
          <ErrorBar dataKey="e" direction="y" width={4} stroke={LRED} strokeWidth={0.9} />
        </Line>
      </Frame>

      {/* f inset */}
      <Frame left={606.7} top={365.3} w={80} h={57.4} yW={17} xH={9} xd={[0, 2]} xt={[0, 0.5, 1, 1.5, 2]} xm={[0, 0.25, 0.5, 0.75, 1, 1.25, 1.5, 1.75, 2]}
        yd={[0.7, 1.0]} yt={[0.7, 0.8, 0.9, 1.0]} ym={[0.7, 0.75, 0.8, 0.85, 0.9, 0.95, 1.0]} fs={7} tm={3} xFmt={f1} yFmt={f1}>
        <ReferenceArea x1={0} x2={2} y1={0.7} y2={1.0} fill="#fff" stroke="none" />
        <ReferenceLine x={1} stroke="#9a9a9a" strokeWidth={0.9} />
        <Line data={fInsD} dataKey="v" stroke={LRED} strokeWidth={0.9} dot={halfDot(3)} {...common}>
          <ErrorBar dataKey="e" direction="y" width={3} stroke={LRED} strokeWidth={0.8} />
        </Line>
      </Frame>

      <Overlay />
    </div>
  );
}
